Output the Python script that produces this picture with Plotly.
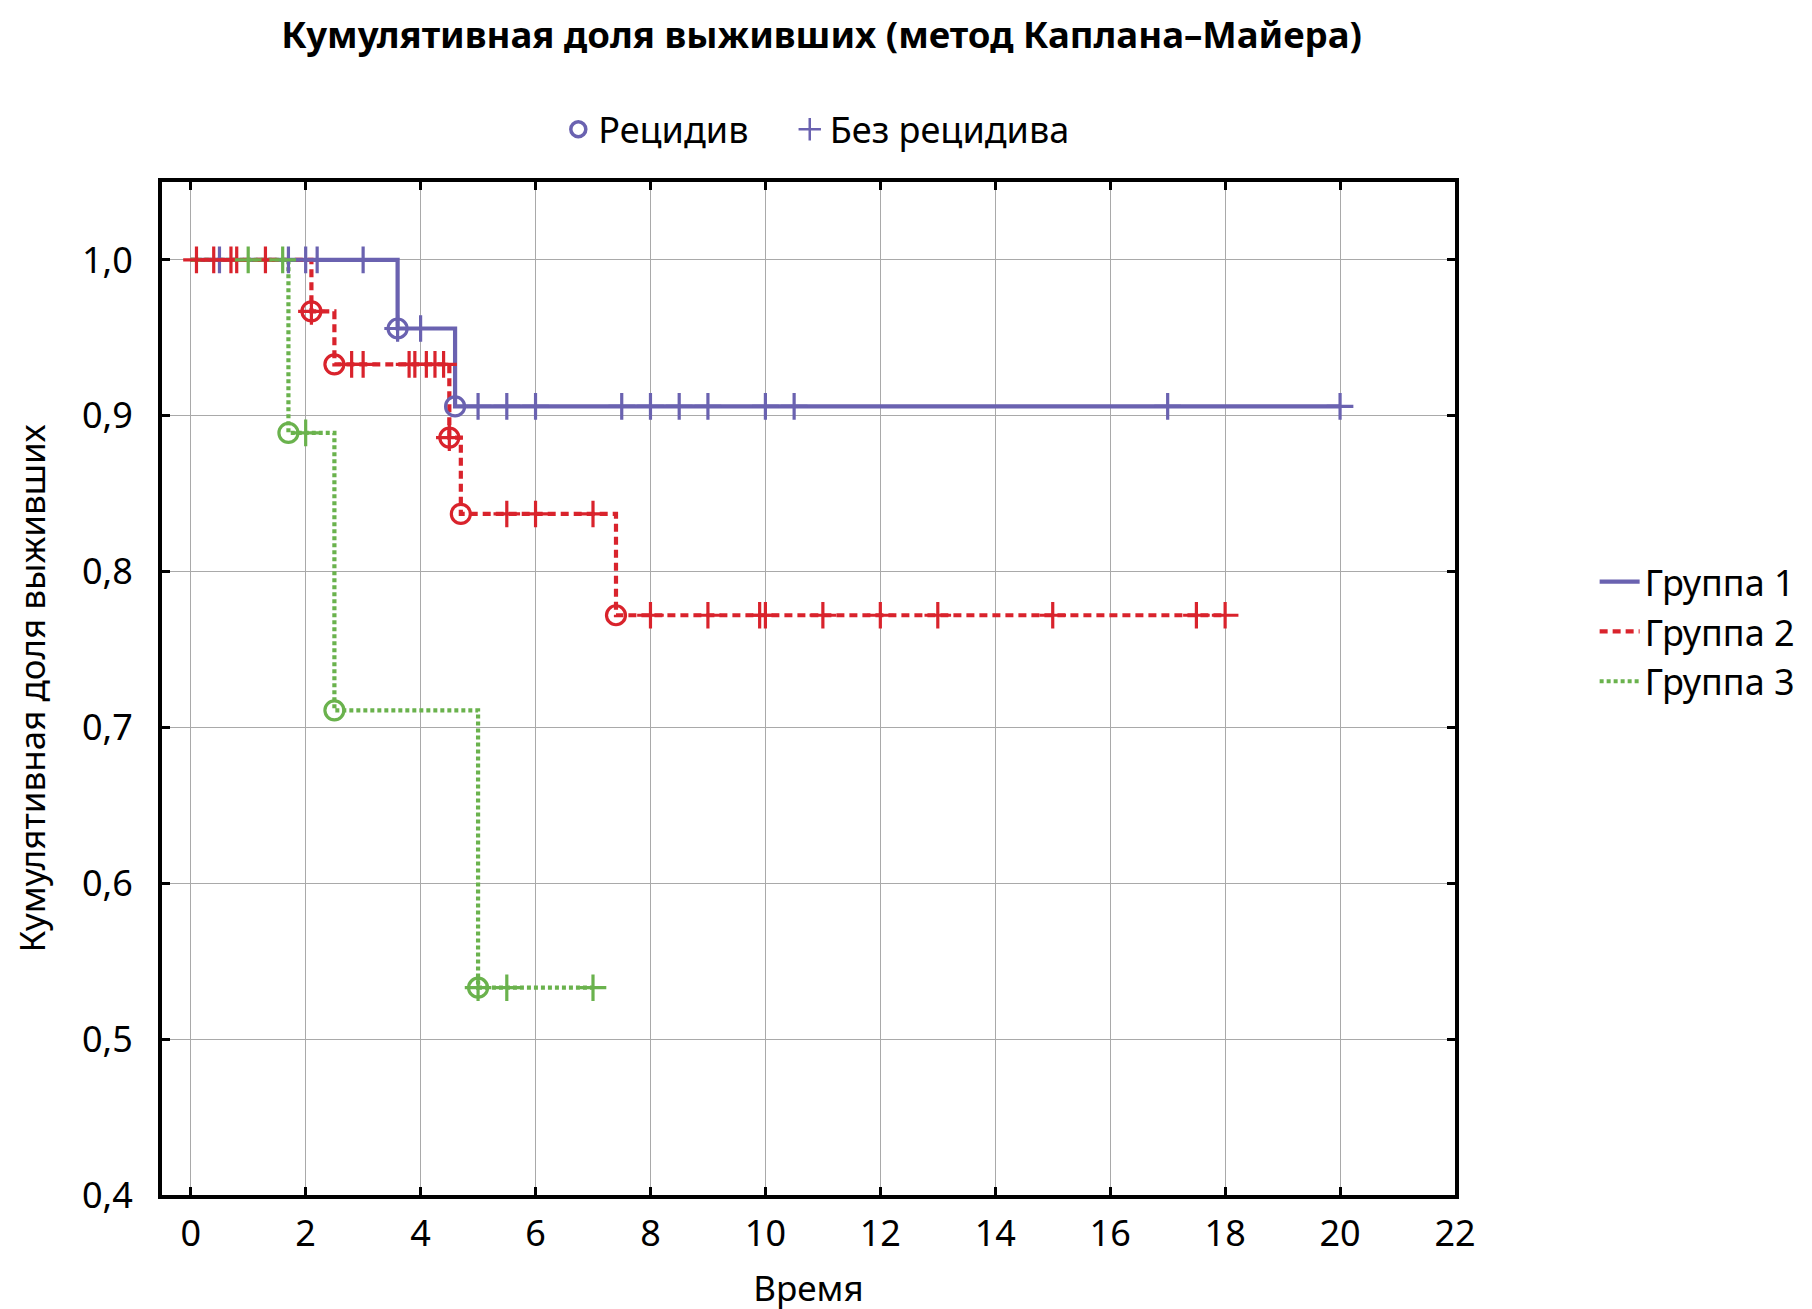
import plotly.graph_objects as go

# Kaplan-Meier steps (time, cumulative survival)
g1_times = [3.6, 4.6]
g1_surv = [0.956, 0.906]
g1_end = 20.0
g1_cens = [0.5, 1.7, 2.0, 2.2, 3.0, 3.6, 4.0, 5.0, 5.5, 6.0, 7.5, 8.0, 8.5, 9.0, 10.0, 10.5, 17.0, 20.0]

g2_times = [2.1, 2.5, 4.5, 4.7, 7.4]
g2_surv = [0.967, 0.933, 0.886, 0.837, 0.772]
g2_end = 18.0
g2_cens = [0.1, 0.4, 0.7, 0.8, 1.3, 2.1, 2.8, 3.0, 3.8, 3.9, 4.1, 4.25, 4.4, 4.5,
           5.5, 6.0, 7.0, 8.0, 9.0, 9.9, 10.0, 11.0, 12.0, 13.0, 15.0, 17.5, 18.0]

g3_times = [1.7, 2.5, 5.0]
g3_surv = [0.889, 0.711, 0.533]
g3_end = 7.0
g3_cens = [1.0, 1.6, 2.0, 5.0, 5.5, 7.0]

names = ["Группа 1", "Группа 2", "Группа 3"]
colors = ["#6a62b0", "#d9232c", "#6ab24d"]
dashes = ["solid", "8px,5px", "4px,3px"]

groups = [
    (g1_times, g1_surv, g1_end, g1_cens),
    (g2_times, g2_surv, g2_end, g2_cens),
    (g3_times, g3_surv, g3_end, g3_cens),
]


def surv_at(times, surv, t):
    s = 1.0
    for ti, si in zip(times, surv):
        if ti <= t:
            s = si
    return s


fig = go.Figure()

# step curves
for (times, surv, end, cens), name, col, dash in zip(groups, names, colors, dashes):
    xs = [0.0] + times + [end]
    ys = [1.0] + surv + [surv[-1]]
    fig.add_trace(go.Scatter(x=xs, y=ys, mode="lines", line_shape="hv",
                             line=dict(color=col, width=4.2, dash=dash),
                             name=name, legend="legend"))

# events and censored marks
for (times, surv, end, cens), col in zip(groups, colors):
    fig.add_trace(go.Scatter(x=times, y=surv, mode="markers", showlegend=False,
                             marker=dict(symbol="circle-open", size=19, color=col,
                                         line=dict(color=col, width=3.2))))
    fig.add_trace(go.Scatter(x=cens, y=[surv_at(times, surv, t) for t in cens],
                             mode="markers", showlegend=False,
                             marker=dict(symbol="cross-thin-open", size=19, color=col,
                                         line=dict(color=col, width=3.2))))

# marker legend on top (two small legends side by side)
fig.add_trace(go.Scatter(x=[None], y=[None], mode="markers", name="Рецидив", legend="legend2",
                         marker=dict(symbol="circle-open", size=15, color=colors[0],
                                     line=dict(color=colors[0], width=3.5))))
fig.add_trace(go.Scatter(x=[None], y=[None], mode="markers", name="Без рецидива", legend="legend3",
                         marker=dict(symbol="cross-thin-open", size=17, color=colors[0],
                                     line=dict(color=colors[0], width=2.5))))

axis_common = dict(showline=True, linecolor="black", linewidth=4, mirror="ticks",
                   ticks="inside", ticklen=8, tickwidth=3, tickcolor="black",
                   showgrid=True, gridcolor="#a9a9a9", gridwidth=1, zeroline=False,
                   tickfont=dict(size=36))

top_legend = dict(orientation="h", y=1.052, xanchor="left", yanchor="middle",
                  bgcolor="rgba(0,0,0,0)", font=dict(size=36))

fig.update_layout(
    width=1812, height=1309,
    margin=dict(l=154, r=365, t=174, b=122),
    plot_bgcolor="white", paper_bgcolor="white",
    separators=", ",
    font=dict(family="Noto Sans", size=36, color="black"),
    title=dict(text="<b>Кумулятивная доля выживших (метод Каплана–Майера)</b>",
               x=0.449, xanchor="center", y=0.979, yanchor="middle",
               font=dict(size=36.6)),
    xaxis=dict(range=[-0.5, 22], tick0=0, dtick=2,
               title=dict(text="Время", standoff=21, font=dict(size=35)),
               ticklabelstandoff=4, **axis_common),
    yaxis=dict(range=[0.4, 1.05], tick0=0.4, dtick=0.1, tickformat=".1f",
               title=dict(text="Кумулятивная доля выживших", standoff=28, font=dict(size=35)),
               ticklabelstandoff=18, **axis_common),
    legend=dict(x=1.108, y=0.556, xanchor="left", yanchor="middle",
                bgcolor="rgba(0,0,0,0)", font=dict(size=36), itemwidth=40),
    legend2=dict(x=0.3065, **top_legend),
    legend3=dict(x=0.4855, **top_legend),
)

fig.write_html("out.html")
